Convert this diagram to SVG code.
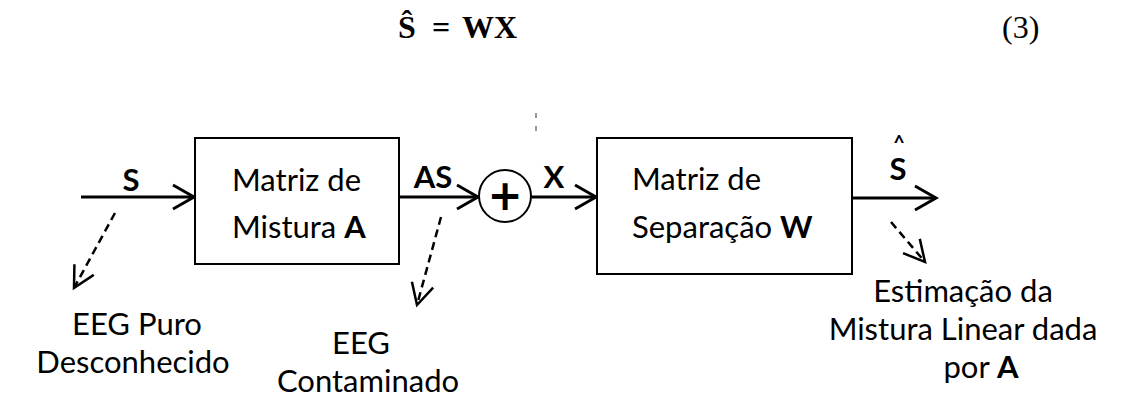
<svg xmlns="http://www.w3.org/2000/svg" width="1129" height="405" viewBox="0 0 1129 405">
  <style>
    .lbl { font-family: Lato, "Open Sans", sans-serif; font-size: 31px; fill: #000; }
    .note { font-family: Lato, "Open Sans", sans-serif; font-size: 31px; fill: #000; }
    .b { font-weight: bold; }
    .eq { font-family: "Liberation Serif", serif; font-size: 32px; fill: #000; }
    .box { fill: #fff; stroke: #000; stroke-width: 2; }
    .wire { fill: none; stroke: #000; stroke-width: 3; }
    .dash { fill: none; stroke: #000; stroke-width: 2.5; stroke-dasharray: 8 5; }
  </style>
  <defs>
    <marker id="head" markerUnits="userSpaceOnUse" markerWidth="30" markerHeight="30" viewBox="-25 -15 30 30" refX="0" refY="0" orient="auto">
      <path d="M-21,-12 L0,0 L-21,12" fill="none" stroke="#000" stroke-width="3" stroke-linejoin="miter"/>
    </marker>
    <marker id="dhead" markerUnits="userSpaceOnUse" markerWidth="30" markerHeight="30" viewBox="-25 -15 30 30" refX="0" refY="0" orient="auto">
      <path d="M-21,-11 L0,0 L-21,11" fill="none" stroke="#000" stroke-width="2.5"/>
    </marker>
  </defs>

  <!-- equation -->
  <g id="equation">
    <text class="eq b" y="38"><tspan x="398">Ŝ</tspan><tspan x="432">=</tspan><tspan x="462">WX</tspan></text>
    <text class="eq" x="1002" y="38">(3)</text>
  </g>

  <!-- connectors -->
  <g id="connectors">
    <path class="wire" d="M81,197 L194,197" marker-end="url(#head)"/>
    <path class="wire" d="M399,197 L478,197" marker-end="url(#head)"/>
    <path class="wire" d="M531,197 L596,197" marker-end="url(#head)"/>
    <path class="wire" d="M852,198 L936,198" marker-end="url(#head)"/>
    <path class="dash" d="M115,213 L74,288" marker-end="url(#dhead)"/>
    <path class="dash" d="M441,217 L417,305" marker-end="url(#dhead)"/>
    <path class="dash" d="M891,222 L925,262" marker-end="url(#dhead)"/>
    <text class="lbl b" x="131" y="191" text-anchor="middle">S</text>
    <text class="lbl b" x="433" y="188" text-anchor="middle">AS</text>
    <text class="lbl b" x="554" y="188" text-anchor="middle">X</text>
    <!-- estimated signal: hat over S -->
    <text class="lbl b" text-anchor="middle"><tspan x="899" y="150" font-size="20">^</tspan><tspan x="898" y="180">S</tspan></text>
  </g>

  <line x1="536" y1="113" x2="536" y2="137" stroke="#777" stroke-width="1.5" stroke-dasharray="5 8"/>

  <g id="mixing">
    <rect class="box" x="195" y="138" width="204" height="126"/>
    <text class="lbl" x="232" y="191">Matriz de</text>
    <text class="lbl" x="232" y="238">Mistura <tspan class="b">A</tspan></text>
  </g>

  <g id="sum">
    <circle cx="505" cy="196" r="26" fill="#fff" stroke="#000" stroke-width="2"/>
    <text x="505" y="210" text-anchor="middle" font-family="DejaVu Sans, sans-serif" font-weight="bold" font-size="42">+</text>
  </g>

  <g id="separation">
    <rect class="box" x="597" y="138" width="255" height="136"/>
    <text class="lbl" x="632" y="190">Matriz de</text>
    <text class="lbl" x="632" y="238">Separação <tspan class="b">W</tspan></text>
  </g>

  <g id="source-note">
    <text class="note" x="137" y="335" text-anchor="middle">EEG Puro</text>
    <text class="note" x="133" y="373" text-anchor="middle">Desconhecido</text>
  </g>

  <g id="mixture-note">
    <text class="note" x="361" y="354" text-anchor="middle">EEG</text>
    <text class="note" x="368" y="392" text-anchor="middle">Contaminado</text>
  </g>

  <g id="estimate-note">
    <text class="lbl" x="963" y="302" text-anchor="middle">Estimação da</text>
    <text class="lbl" x="963" y="340" text-anchor="middle">Mistura Linear dada</text>
    <text class="lbl" x="981" y="378" text-anchor="middle">por <tspan class="b">A</tspan></text>
  </g>
</svg>
